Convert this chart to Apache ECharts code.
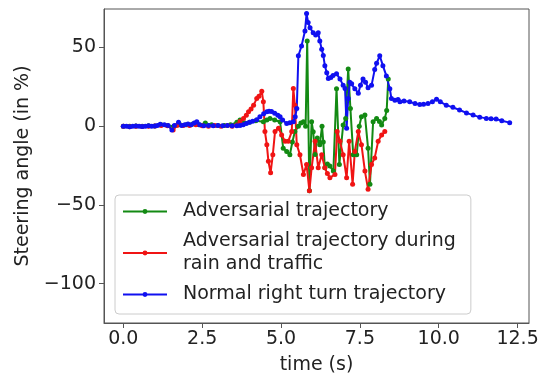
<!DOCTYPE html>
<html>
<head>
<meta charset="utf-8">
<script src="https://cdn.jsdelivr.net/npm/echarts@6/dist/echarts.min.js"></script>
<style>
  html, body { margin: 0; padding: 0; background: #fff; }
  #chart { width: 542px; height: 380px; }
</style>
</head>
<body>
<div id="chart"></div>
<script>
// tick positions
var xTicks = [0, 2.5, 5, 7.5, 10, 12.5];
var yTicks = [-100, -50, 0, 50];

// series names
var names = [
  'Adversarial trajectory',
  'Adversarial trajectory during\nrain and traffic',
  'Normal right turn trajectory'
];

// [time, steering]
var greenData = [
  [0, 0], [0.2, 0], [0.4, 0.2], [0.6, 0], [0.8, 0.3], [1.0, 0.2], [1.2, 1], [1.4, 0.5], [1.6, 0], [1.8, 1],
  [2.0, 1], [2.2, 1.5], [2.4, 1], [2.6, 2], [2.8, 1], [3.0, 0.5], [3.2, 0.5], [3.4, 1], [3.6, 2.5], [3.7, 4],
  [3.85, 2], [4.0, 2.5], [4.2, 3.5], [4.44, 2.9], [4.55, 4], [4.65, 5], [4.8, 4], [4.97, 2.9],
  [5.07, -14], [5.18, -16], [5.28, -18.1], [5.36, -10], [5.44, -3.4], [5.55, 0], [5.63, 2], [5.71, 2.9],
  [5.78, 0], [5.83, 54.2], [5.9, -41], [5.97, 2.9], [6.02, -3.5], [6.08, -18], [6.15, -7.5], [6.23, -11.7],
  [6.3, 0], [6.34, -10], [6.39, -26.4], [6.47, -24], [6.55, -25.3], [6.66, -28.5], [6.76, 23.9],
  [6.85, -24.3], [6.97, 0.8], [7.05, 5], [7.13, 36.4], [7.2, 11.3], [7.29, -18.1], [7.4, -18.1],
  [7.48, 0], [7.55, 6], [7.66, 7.1], [7.76, -14], [7.82, -36.8], [7.92, 2.9], [8.03, 5], [8.12, 3],
  [8.19, 0.8], [8.29, 5], [8.35, 10], [8.4, 30.1]
];

var redData = [
  [0, 0], [0.2, -0.3], [0.4, 0], [0.6, -0.2], [0.8, 0], [1.0, 0.2], [1.2, 0.5], [1.4, 0.3], [1.58, -2.3], [1.7, 0.5],
  [1.9, 0.5], [2.1, 0.5], [2.3, 1], [2.5, 0.3], [2.7, 0], [2.9, 0.5], [3.1, 0], [3.3, 0.5], [3.45, 0], [3.6, 0.8],
  [3.7, 3], [3.81, 5], [3.9, 7], [3.97, 9.2], [4.05, 11], [4.13, 13.4], [4.23, 17.6], [4.3, 19], [4.39, 22.2],
  [4.44, 15.5], [4.49, -3.4], [4.55, -11.7], [4.6, -22.2], [4.67, -29.5], [4.74, -18.1], [4.81, -3.4],
  [4.92, -1.3], [5.02, -5.5], [5.13, -9.6], [5.23, -9.6], [5.34, -3.4], [5.39, 24], [5.44, 13.4],
  [5.5, -11.7], [5.6, -18.1], [5.71, -30.6], [5.81, -24.3], [5.9, -41], [5.97, -26.4], [6.08, -9.6],
  [6.18, -26.4], [6.29, -18.1], [6.39, -26.4], [6.47, -30], [6.55, -32.7], [6.71, -30.6], [6.78, -3.4],
  [6.87, -9.6], [6.97, -18.1], [7.08, -32.7], [7.16, -9.6], [7.27, -36.8], [7.34, -16], [7.45, -3.4],
  [7.55, -11.7], [7.66, -28.5], [7.76, -40], [7.87, -24.3], [7.97, -20.1], [8.08, -9.6], [8.19, -5.5],
  [8.29, -3.4]
];

var blueData = [
  [0, 0], [0.1, 0], [0.2, -0.3], [0.3, 0], [0.4, 0.2], [0.5, 0], [0.6, -0.2], [0.7, 0], [0.8, 0.3], [0.9, 0],
  [1.0, 0.2], [1.08, 0.5], [1.17, 1.2], [1.3, 1], [1.42, 0.5], [1.54, -2.3], [1.62, 0.5], [1.75, 2.5], [1.85, 0.5],
  [1.95, 1], [2.05, 1.5], [2.15, 1], [2.25, 2], [2.33, 2.9], [2.42, 1], [2.55, 0.3], [2.7, 0.5], [2.85, 0.4],
  [3.0, 0.5], [3.15, 0.3], [3.3, 0.5], [3.45, 0.4], [3.6, 0.3], [3.7, 0.5], [3.8, 1], [3.9, 1.8], [4.0, 2.5],
  [4.1, 3.2], [4.23, 4.2], [4.33, 6], [4.45, 8], [4.55, 9.2], [4.62, 9.6], [4.7, 9.3], [4.8, 8.2], [4.9, 7],
  [4.97, 6], [5.05, 4], [5.18, 1.8], [5.28, 2.2], [5.39, 2.9], [5.45, 6], [5.5, 11.3], [5.55, 44.8],
  [5.65, 51], [5.76, 60.6], [5.81, 71.6], [5.86, 66], [5.92, 62.6], [6.02, 59.4], [6.1, 58], [6.18, 59.4],
  [6.23, 54.2], [6.29, 49], [6.34, 45], [6.39, 38.5], [6.45, 34], [6.5, 30.3], [6.58, 31], [6.65, 32.2],
  [6.76, 33.3], [6.87, 30.1], [6.97, 26], [7.03, 24], [7.08, -1.3], [7.13, 17.6], [7.18, 28], [7.24, 27],
  [7.34, 23.9], [7.45, 21], [7.52, 26], [7.6, 30], [7.68, 28], [7.76, 24.5], [7.87, 26], [7.97, 36],
  [8.03, 40], [8.13, 44.8], [8.23, 38.5], [8.34, 32], [8.45, 23.9], [8.5, 17.6], [8.61, 16.5], [8.71, 17],
  [8.77, 15.5], [8.9, 16], [9.08, 15.5], [9.25, 14.5], [9.4, 13.8], [9.52, 14], [9.66, 14.4], [9.8, 15.5],
  [9.93, 17.2], [10.05, 15.5], [10.24, 13.4], [10.45, 12], [10.66, 10.3], [10.88, 8.5], [11.09, 7.1],
  [11.3, 5.8], [11.51, 5.0], [11.66, 4.8], [11.82, 4.6], [12.0, 3.5], [12.25, 2.3]
];

var colors = ['#138a13', '#f01414', '#1010f0'];
var font = 'DejaVu Sans';

function mk(name, data, color) {
  return {
    name: name,
    type: 'line',
    data: data,
    symbol: 'circle',
    symbolSize: 5,
    showSymbol: true,
    color: color,
    lineStyle: { width: 2, color: color },
    itemStyle: { color: color },
    emphasis: { disabled: true },
    animation: false
  };
}

var chart = echarts.init(document.getElementById('chart'));
chart.setOption({
  animation: false,
  backgroundColor: '#fff',
  textStyle: { fontFamily: font },
  grid: {
    left: 104, right: 13, top: 9, bottom: 53,
    show: true, borderColor: '#555', borderWidth: 1
  },
  xAxis: {
    type: 'value',
    min: -0.6125, max: 12.8625,
    name: 'time (s)',
    nameLocation: 'middle',
    nameGap: 33,
    nameTextStyle: { fontSize: 19, color: '#222', fontFamily: font },
    splitLine: { show: false },
    axisLine: { show: true, onZero: false, lineStyle: { color: '#555' } },
    axisTick: { show: true, length: 5, customValues: xTicks, lineStyle: { color: '#555' } },
    axisLabel: {
      customValues: xTicks, fontSize: 19, color: '#222', margin: 7, fontFamily: font,
      formatter: function (v) { return v.toFixed(1); }
    }
  },
  yAxis: {
    type: 'value',
    min: -125, max: 74.5,
    name: 'Steering angle (in %)',
    nameLocation: 'middle',
    nameGap: 70,
    nameTextStyle: { fontSize: 19, color: '#222', fontFamily: font },
    splitLine: { show: false },
    axisLine: { show: true, onZero: false, lineStyle: { color: '#555' } },
    axisTick: { show: true, length: 5, customValues: yTicks, lineStyle: { color: '#555' } },
    axisLabel: {
      customValues: yTicks, fontSize: 19, color: '#222', margin: 8, fontFamily: font,
      formatter: function (v) { return String(v).replace('-', '\u2212'); }
    }
  },
  legend: {
    orient: 'vertical',
    left: 115, top: 195,
    data: names,
    itemWidth: 44,
    itemHeight: 6,
    itemGap: 7,
    padding: [5, 15, 8, 7],
    backgroundColor: '#fff',
    borderColor: '#ccc',
    borderWidth: 1,
    borderRadius: 4,
    textStyle: { fontSize: 19, color: '#222', lineHeight: 23, fontFamily: font, padding: [0, 0, 0, 11] }
  },
  series: [
    mk(names[0], greenData, colors[0]),
    mk(names[1], redData, colors[1]),
    mk(names[2], blueData, colors[2])
  ]
});
</script>
</body>
</html>
